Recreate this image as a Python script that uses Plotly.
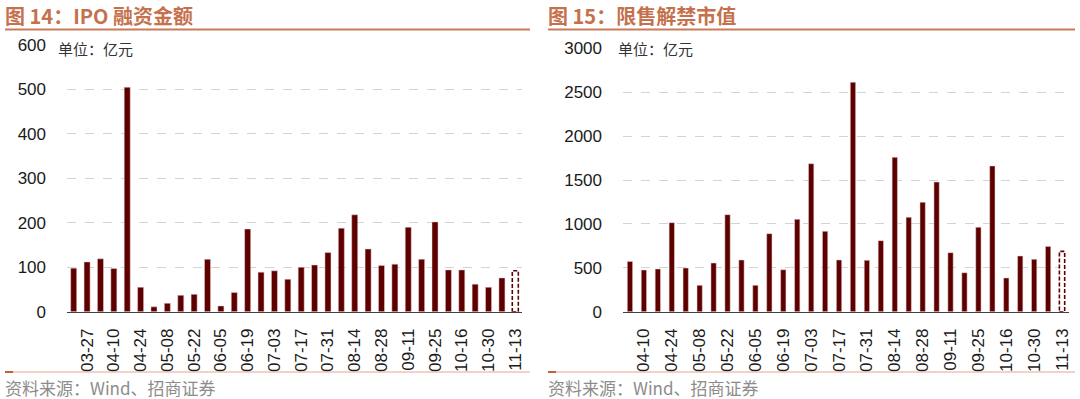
import plotly.graph_objects as go

# ---------------- data ----------------
ipo_weeks = ["03-20", "03-27", "04-03", "04-10", "04-17", "04-24", "05-01", "05-08", "05-15",
             "05-22", "05-29", "06-05", "06-12", "06-19", "06-26", "07-03", "07-10", "07-17",
             "07-24", "07-31", "08-07", "08-14", "08-21", "08-28", "09-04", "09-11", "09-18",
             "09-25", "10-09", "10-16", "10-23", "10-30", "11-06", "11-13"]
ipo_values = [98, 112, 119, 97, 505, 55, 11, 19, 37, 39, 118, 13, 43, 186, 89, 92, 73, 100,
              105, 133, 188, 218, 141, 104, 107, 190, 118, 202, 94, 94, 62, 55, 76, 92]
ipo_ticks = ["03-27", "04-10", "04-24", "05-08", "05-22", "06-05", "06-19", "07-03", "07-17",
             "07-31", "08-14", "08-28", "09-11", "09-25", "10-16", "10-30", "11-13"]

lock_weeks = ["04-03", "04-10", "04-17", "04-24", "05-01", "05-08", "05-15", "05-22", "05-29",
              "06-05", "06-12", "06-19", "06-26", "07-03", "07-10", "07-17", "07-24", "07-31",
              "08-07", "08-14", "08-21", "08-28", "09-04", "09-11", "09-18", "09-25", "10-09",
              "10-16", "10-23", "10-30", "11-06", "11-13"]
lock_values = [573, 475, 486, 1014, 497, 300, 554, 1105, 589, 300, 889, 478, 1052, 1686, 915,
               589, 2613, 585, 809, 1758, 1075, 1246, 1477, 672, 444, 961, 1660, 384, 634, 596,
               744, 687]
lock_ticks = ["04-10", "04-24", "05-08", "05-22", "06-05", "06-19", "07-03", "07-17", "07-31",
              "08-14", "08-28", "09-11", "09-25", "10-16", "10-30", "11-13"]

titles = ["图 14：IPO 融资金额", "图 15：限售解禁市值"]
unit_text = "单位：亿元"
source_text = "资料来源：Wind、招商证券"

# ---------------- style ----------------
W, H = 1080, 399
BAR = "#5E0000"
TITLE_C = "#C5714C"
NUM_FONT = "Liberation Sans, Arial, Noto Sans CJK SC"
CJK_FONT = "Noto Sans CJK SC, Liberation Sans"

def px_x(p):
    return p / W

def px_y(p):
    return 1 - p / H

fig = go.Figure()

panels = [
    dict(weeks=ipo_weeks, vals=ipo_values, ticks=ipo_ticks, xa="x", ya="y",
         xdom=[px_x(67), px_x(522)], ydom=[px_y(311.7), px_y(45)], rng=[0, 600], dt=100,
         bw=0.45, title_x=3, line=(5, 530), unit_x=56),
    dict(weeks=lock_weeks, vals=lock_values, ticks=lock_ticks, xa="x2", ya="y2",
         xdom=[px_x(623), px_x(1069)], ydom=[px_y(311.7), px_y(48.3)], rng=[0, 3000], dt=500,
         bw=0.38, title_x=546, line=(548, 1075), unit_x=616),
]

shapes = []
annotations = []
for i, p in enumerate(panels):
    n = len(p["vals"])
    colors = [BAR] * (n - 1) + ["rgba(255,255,255,0)"]
    fig.add_trace(go.Bar(
        x=p["weeks"], y=p["vals"], xaxis=p["xa"], yaxis=p["ya"],
        width=p["bw"], marker=dict(color=colors, line=dict(color="#EBD3D3", width=0.5)),
        showlegend=False, hoverinfo="x+y",
    ))
    # dashed outline for the latest (estimated) week, derived from the data
    idx = n - 1
    shapes.append(dict(type="rect", xref=p["xa"], yref=p["ya"],
                       x0=idx - p["bw"] / 2, x1=idx + p["bw"] / 2, y0=0, y1=p["vals"][-1],
                       line=dict(color=BAR, width=1.6, dash="4px,2px"), fillcolor="white",
                       layer="above"))
    sfx = "" if i == 0 else "2"
    fig.layout["xaxis" + sfx] = dict(
        domain=p["xdom"], anchor="y" + sfx, type="category",
        categoryorder="array", categoryarray=p["weeks"],
        tickvals=p["ticks"], ticktext=p["ticks"], tickangle=-90,
        tickfont=dict(family=NUM_FONT, size=17, color="#1A1A1A"),
        showline=True, linecolor="#404040", linewidth=1, showgrid=False, ticks="",
        ticklabelstandoff=9, range=[-0.5, n - 0.5], fixedrange=True, automargin=False,
    )
    fig.layout["yaxis" + sfx] = dict(
        domain=p["ydom"], anchor="x" + sfx, range=p["rng"], dtick=p["dt"], tick0=0,
        showgrid=True, gridcolor="#D3D3D3", griddash="dash", gridwidth=1,
        zeroline=False, showline=False, ticks="",
        tickfont=dict(family=NUM_FONT, size=17, color="#1A1A1A"),
        ticklabelstandoff=20, fixedrange=True, automargin=False,
    )
    # title
    annotations.append(dict(text="<b>" + titles[i] + "</b>", xref="paper", yref="paper",
                            x=px_x(p["title_x"]), y=px_y(15), xanchor="left", yanchor="middle",
                            showarrow=False, font=dict(family=CJK_FONT, size=20, color=TITLE_C)))
    # unit label
    annotations.append(dict(text=unit_text, xref="paper", yref="paper",
                            x=px_x(p["unit_x"]), y=px_y(48), xanchor="left", yanchor="middle",
                            showarrow=False, font=dict(family=CJK_FONT, size=15, color="#333333")))
    # source
    annotations.append(dict(text=source_text, xref="paper", yref="paper",
                            x=px_x(p["title_x"]), y=px_y(387), xanchor="left", yanchor="middle",
                            showarrow=False, font=dict(family=CJK_FONT, size=17, color="#8C8C8C")))
    x0, x1 = p["line"]
    # title underline
    shapes.append(dict(type="line", xref="paper", yref="paper", x0=px_x(x0), x1=px_x(x1),
                       y0=px_y(29.5), y1=px_y(29.5), line=dict(color="#C97B58", width=2)))
    # bottom rule
    shapes.append(dict(type="line", xref="paper", yref="paper", x0=px_x(x0), x1=px_x(x1),
                       y0=px_y(372), y1=px_y(372), line=dict(color="#E3A58A", width=1.2)))
    shapes.append(dict(type="line", xref="paper", yref="paper", x0=px_x(x0), x1=px_x(x0 + 8),
                       y0=px_y(372), y1=px_y(372), line=dict(color="#C0603E", width=2)))

fig.update_layout(
    width=W, height=H, autosize=False, margin=dict(l=0, r=0, t=0, b=0, pad=0),
    paper_bgcolor="white", plot_bgcolor="white",
    shapes=shapes, annotations=annotations, showlegend=False,
)

fig.write_html(
    "out.html",
    config={"displayModeBar": False, "responsive": False},
    post_script="document.body.style.margin='0';document.body.style.overflow='hidden';",
)
